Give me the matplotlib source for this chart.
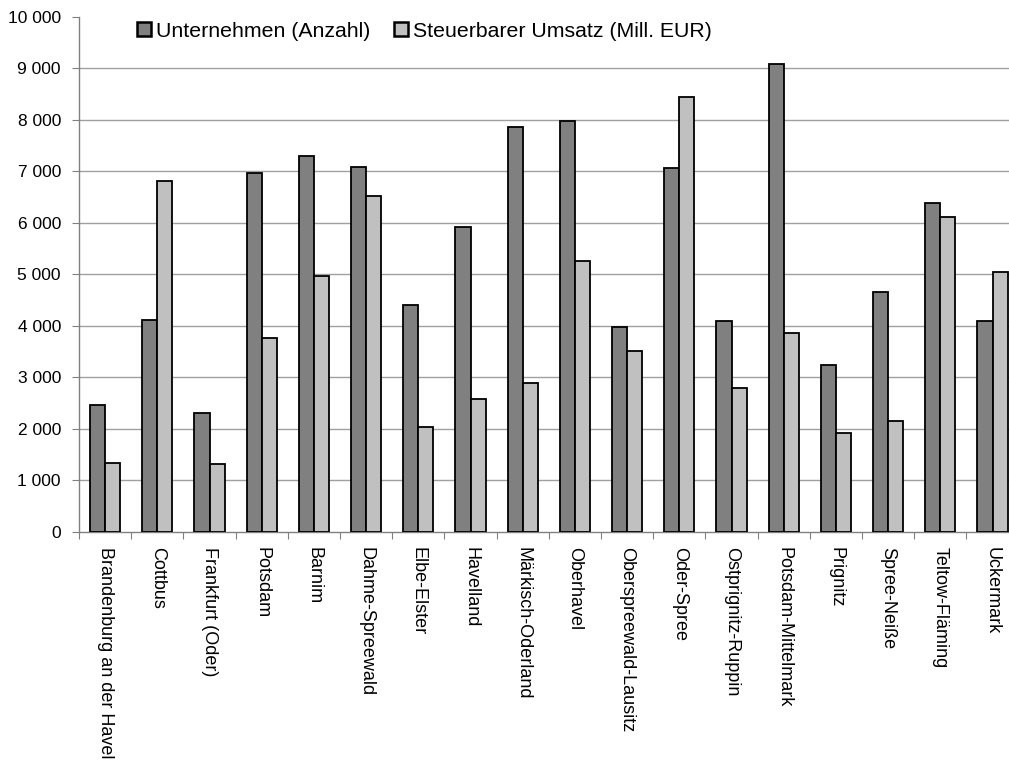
import numpy as np
import matplotlib
matplotlib.use("Agg")
import matplotlib.pyplot as plt
from matplotlib.ticker import FuncFormatter, MultipleLocator

plt.rcParams['font.family'] = ['Liberation Sans', 'DejaVu Sans']

kreise = ["Brandenburg an der Havel", "Cottbus", "Frankfurt (Oder)", "Potsdam",
          "Barnim", "Dahme-Spreewald", "Elbe-Elster", "Havelland",
          "Märkisch-Oderland", "Oberhavel", "Oberspreewald-Lausitz", "Oder-Spree",
          "Ostprignitz-Ruppin", "Potsdam-Mittelmark", "Prignitz", "Spree-Neiße",
          "Teltow-Fläming", "Uckermark"]
unternehmen = [2460, 4110, 2310, 6970, 7295, 7087, 4400, 5910, 7864,
               7980, 3970, 7056, 4097, 9076, 3231, 4654, 6388, 4085]
umsatz = [1340, 6810, 1315, 3760, 4960, 6518, 2040, 2570, 2880,
          5260, 3515, 8435, 2785, 3864, 1911, 2155, 6105, 5050]

W, H = 1009, 762
fig = plt.figure(figsize=(W / 100, H / 100), dpi=100)
# axes runs a bit past the right edge, like the original crop
ax = fig.add_axes([79 / W, (H - 531.7) / H, 939.6 / W, 515 / H])

x = np.arange(len(kreise))
bw = 0.29
ax.bar(x - bw / 2, unternehmen, bw, color="#808080", edgecolor="black",
       linewidth=1.3, label="Unternehmen (Anzahl)", zorder=3)
ax.bar(x + bw / 2, umsatz, bw, color="#c0c0c0", edgecolor="black",
       linewidth=1.3, label="Steuerbarer Umsatz (Mill. EUR)", zorder=3)

ax.set_xlim(-0.5, len(kreise) - 0.5)
ax.set_ylim(0, 10000)
ax.yaxis.set_major_locator(MultipleLocator(1000))
ax.yaxis.set_major_formatter(FuncFormatter(lambda v, p: f"{int(v):,}".replace(",", " ")))
for v in range(1000, 10000, 1000):
    ax.axhline(v, color="#a0a0a0", linewidth=1.0, zorder=1)

ax.set_xticks(np.arange(len(kreise) + 1) - 0.5, minor=False)
ax.set_xticklabels([])
ax.set_xticks(x, minor=True)
ax.set_xticklabels(kreise, minor=True, rotation=-90, fontsize=13,
                   ha="center", va="top")
ax.tick_params(axis="x", which="minor", length=0, pad=11)
ax.tick_params(axis="x", which="major", length=5, color="#808080", direction="out")
ax.tick_params(axis="y", length=5, color="#808080", labelsize=12.5, pad=8)

for s in ["top", "right"]:
    ax.spines[s].set_visible(False)
for s in ["left", "bottom"]:
    ax.spines[s].set_color("#808080")
    ax.spines[s].set_linewidth(1.0)

leg = fig.legend(loc="center", bbox_to_anchor=(0.4207, 0.959), ncol=2, frameon=False,
                 fontsize=15.3, handlelength=0.66, handleheight=0.66, handletextpad=0.25,
                 columnspacing=1.1, borderpad=0)
for h in leg.legend_handles:
    h.set_linewidth(1.8)

fig.savefig("out.png", dpi=100)
